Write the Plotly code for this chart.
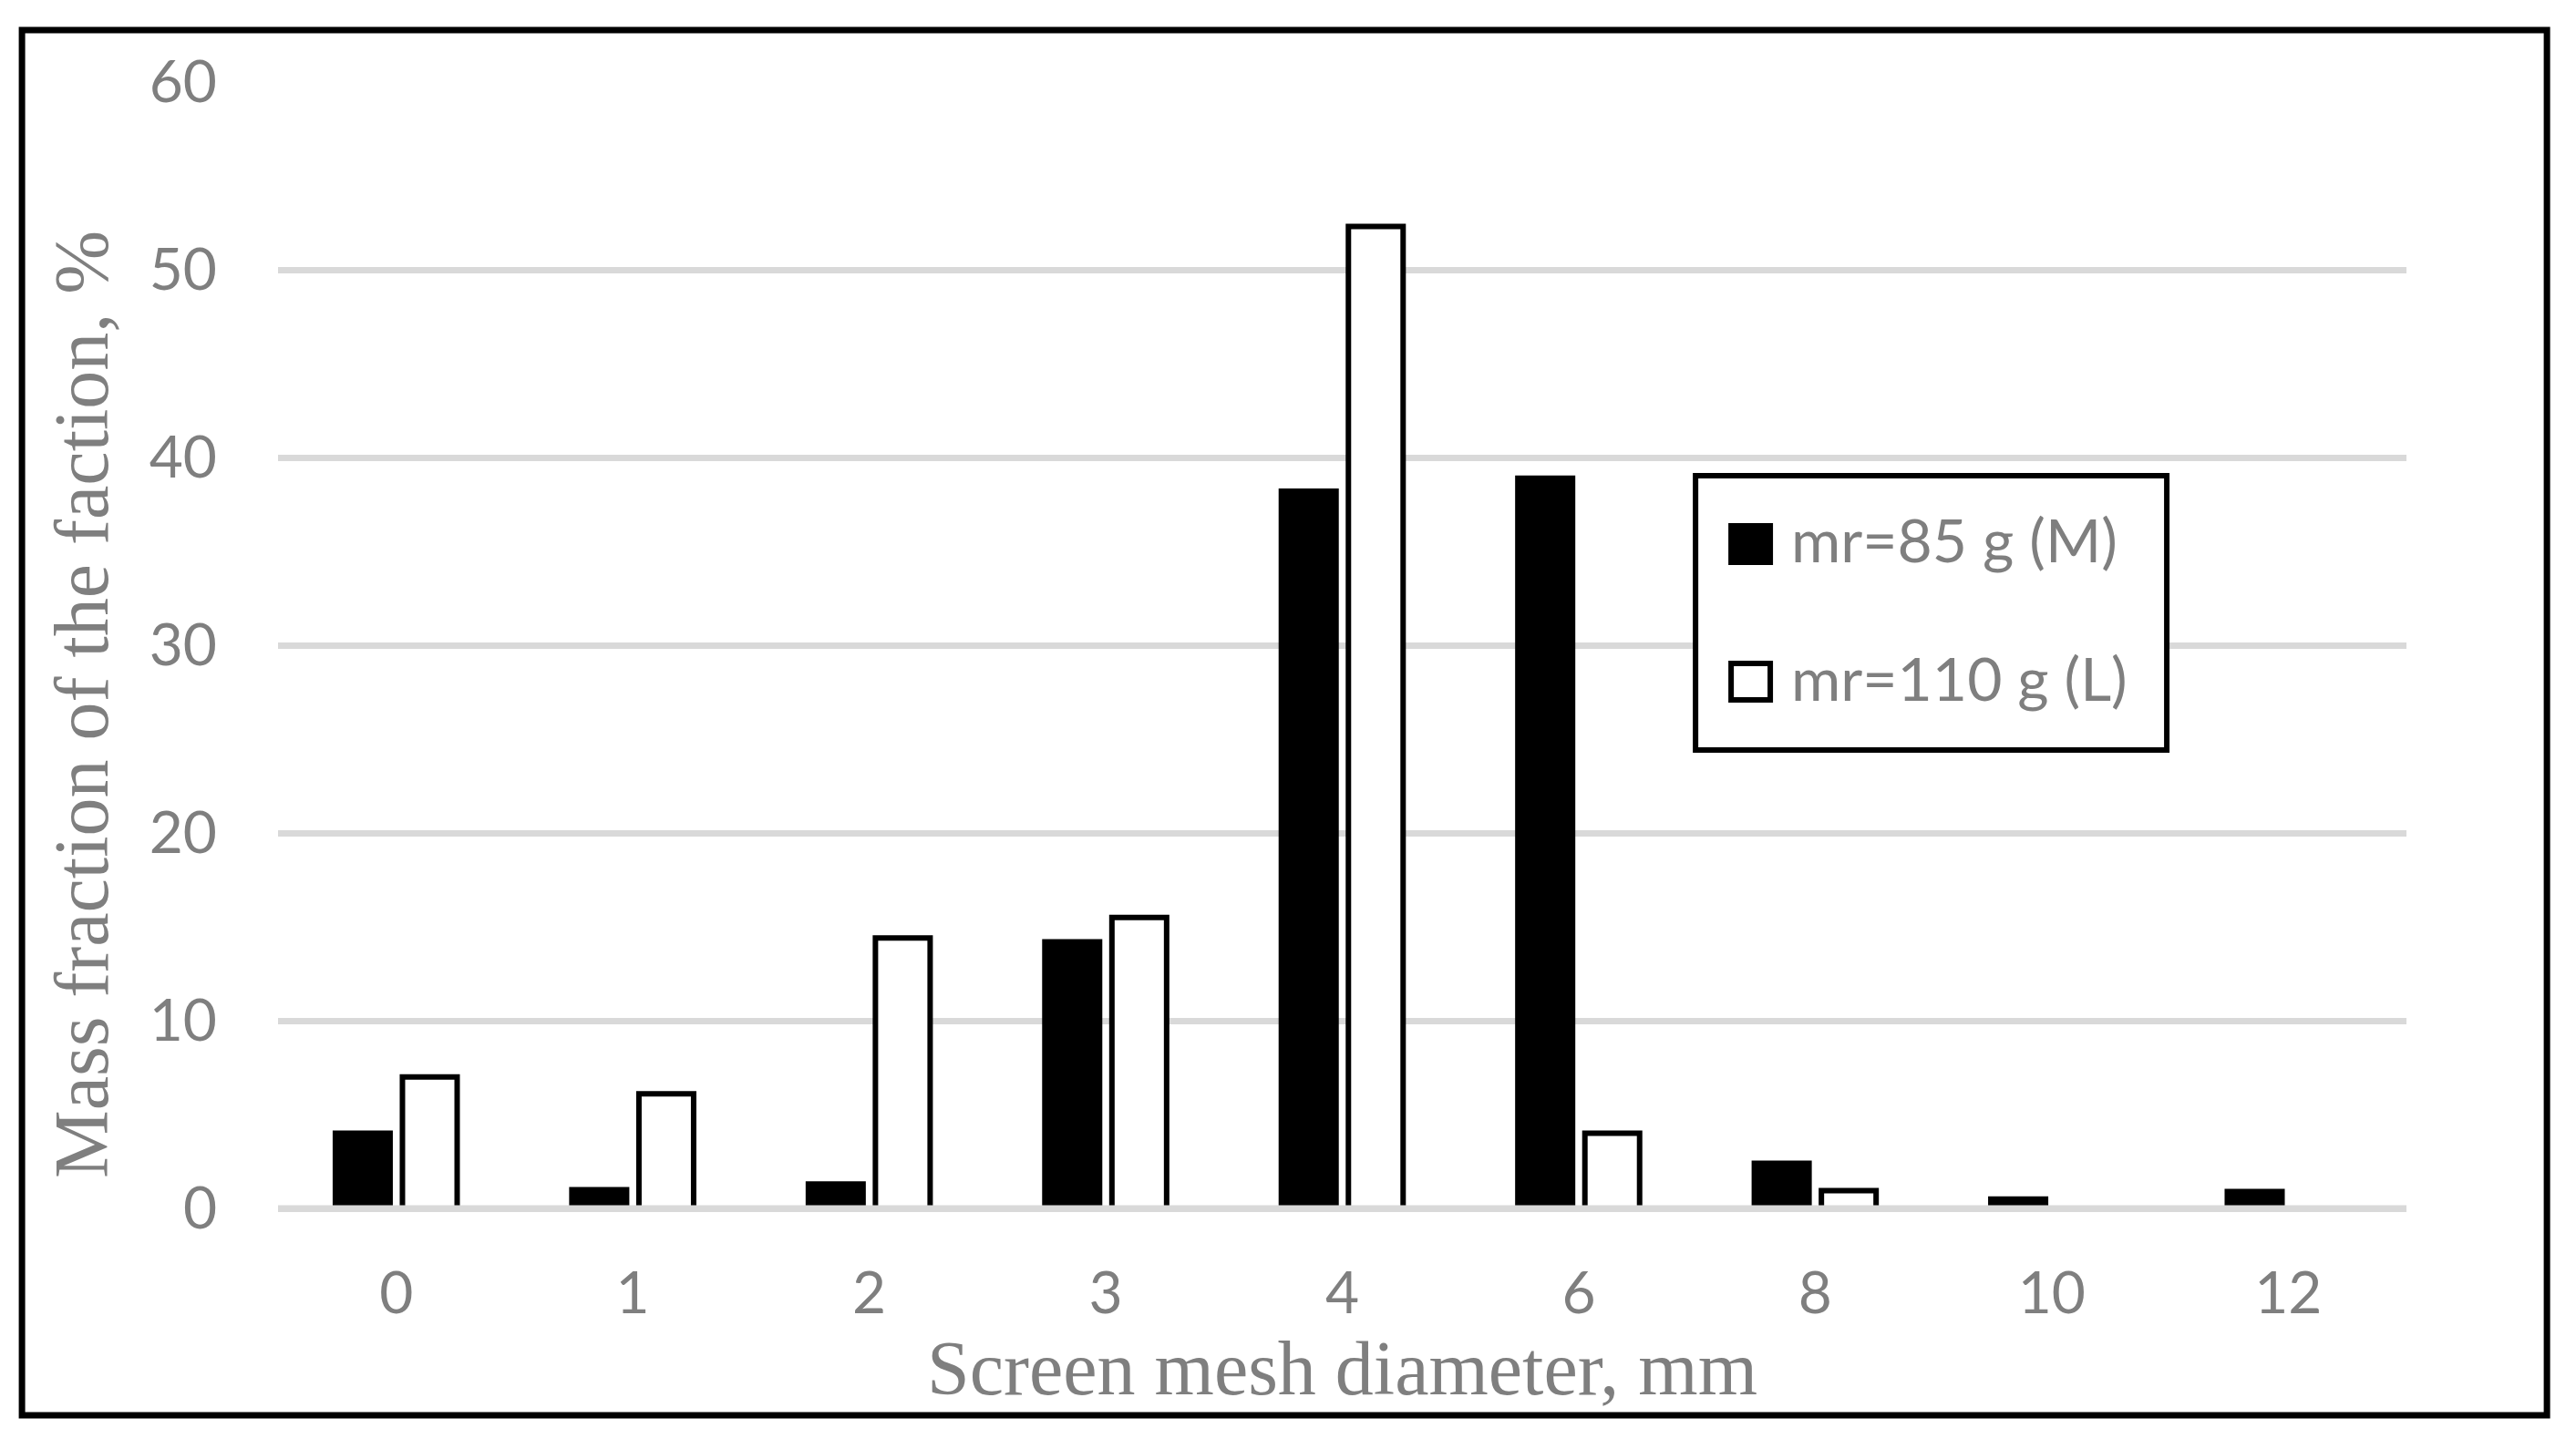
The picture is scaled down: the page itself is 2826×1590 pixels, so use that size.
import plotly.graph_objects as go

mesh = ["0", "1", "2", "3", "4", "6", "8", "10", "12"]
mass_m = [4.0, 1.0, 1.3, 14.2, 38.2, 38.9, 2.4, 0.5, 0.9]
mass_l = [7.0, 6.1, 14.4, 15.5, 52.3, 4.0, 0.95, 0, 0]
names = ["mr=85 g (M)", "mr=110 g (L)"]

grey = "#7f7f7f"
serif = "Liberation Serif, Times New Roman, serif"
sans = "Lato, Calibri, sans-serif"

fig = go.Figure()
fig.add_trace(go.Bar(x=mesh, y=mass_m, name=names[0],
                     marker=dict(color="black", line=dict(color="black", width=6))))
fig.add_trace(go.Bar(x=mesh, y=mass_l, name=names[1],
                     marker=dict(color="white", line=dict(color="black", width=6))))

shapes = [
    # zero line drawn over bar bottoms
    dict(type="line", xref="paper", yref="y", x0=0, x1=1, y0=0, y1=0,
         line=dict(color="#d9d9d9", width=7), layer="above"),
    # outer frame
    dict(type="rect", xref="paper", yref="paper", x0=-0.1203, x1=1.066, y0=-0.1837, y1=1.0461,
         line=dict(color="black", width=7), layer="above"),
    # legend box and swatches
    dict(type="rect", xref="paper", yref="paper", x0=0.666, x1=0.8874, y0=0.407, y1=0.6505,
         line=dict(color="black", width=6), fillcolor="white", layer="above"),
    dict(type="rect", xref="paper", yref="paper", x0=0.6827, x1=0.7011, y0=0.5736, y1=0.606,
         line=dict(color="black", width=6), fillcolor="black", layer="above"),
    dict(type="rect", xref="paper", yref="paper", x0=0.6827, x1=0.7011, y0=0.4515, y1=0.4838,
         line=dict(color="black", width=6), fillcolor="white", layer="above"),
]

annotations = [
    dict(text="Screen mesh diameter, mm", xref="paper", yref="paper", x=0.5, y=-0.1416,
         xanchor="center", yanchor="middle", showarrow=False,
         font=dict(family=serif, size=84, color=grey)),
    dict(text="Mass fraction of the faction, %", xref="paper", yref="paper", x=-0.0925, y=0.4474,
         xanchor="center", yanchor="middle", textangle=-90, showarrow=False,
         font=dict(family=serif, size=84, color=grey)),
    dict(text=names[0], xref="paper", yref="paper", x=0.7101, y=0.5943,
         xanchor="left", yanchor="middle", showarrow=False,
         font=dict(family=sans, size=66, color=grey)),
    dict(text=names[1], xref="paper", yref="paper", x=0.7101, y=0.4713,
         xanchor="left", yanchor="middle", showarrow=False,
         font=dict(family=sans, size=66, color=grey)),
]

# page body adds an 8px offset, so the figure is 8px smaller on each side
fig.update_layout(
    width=2818, height=1582,
    margin=dict(l=297, r=186, t=82, b=264),
    paper_bgcolor="white", plot_bgcolor="white",
    barmode="group", bargap=0.433, bargroupgap=0.184,
    showlegend=False,
    shapes=shapes, annotations=annotations,
)
fig.update_xaxes(type="category", showgrid=False, showline=False, ticks="",
                 tickfont=dict(family=sans, size=64, color=grey), ticklabelstandoff=50)
fig.update_yaxes(range=[0, 60], dtick=10, showgrid=True, gridcolor="#d9d9d9", gridwidth=7,
                 zeroline=True, zerolinecolor="#d9d9d9", zerolinewidth=7, showline=False, ticks="",
                 tickfont=dict(family=sans, size=64, color=grey), ticklabelstandoff=66)

fig.write_html("out.html")
